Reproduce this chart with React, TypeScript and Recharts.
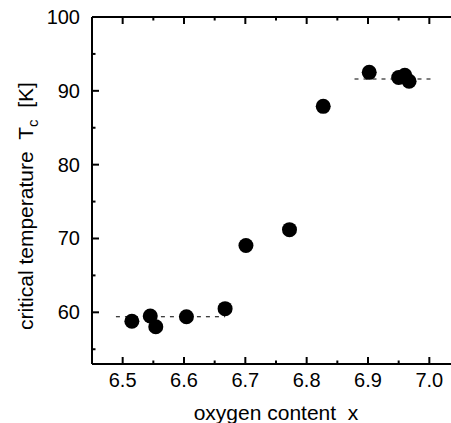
import {
  ScatterChart,
  Scatter,
  XAxis,
  YAxis,
  ReferenceLine,
} from "recharts";

// oxygen content x and critical temperature Tc [K]
const oxygen = [6.515, 6.545, 6.554, 6.604, 6.667, 6.701, 6.772, 6.827, 6.902, 6.95, 6.96, 6.967];
const tc = [58.8, 59.5, 58.05, 59.4, 60.5, 69.05, 71.2, 87.9, 92.5, 91.8, 92.1, 91.3];

// dashed plateau guides
const plateauStart = [6.489, 6.878];
const plateauEnd = [6.667, 7.004];
const plateauTc = [59.4, 91.6];

const xMajor = [6.5, 6.6, 6.7, 6.8, 6.9, 7.0];
const xMinor = [6.55, 6.65, 6.75, 6.85, 6.95];
const yMajor = [60, 70, 80, 90, 100];
const yMinor = [55, 65, 75, 85, 95];

const FONT = "'Liberation Sans', Arial, Helvetica, sans-serif";

// plot frame (px)
const TOP = 17;
const BOTTOM = 364;
const LEFT = 92;

const points = oxygen.map((x, i) => ({ x, y: tc[i] }));

const XTick = (props: any) => {
  const { x, payload } = props;
  const major = xMajor.includes(payload.value);
  const len = major ? 7 : 3.5;
  return (
    <g>
      <line x1={x} x2={x} y1={BOTTOM} y2={BOTTOM - len} stroke="#000" strokeWidth={2} />
      <line x1={x} x2={x} y1={TOP} y2={TOP + len} stroke="#000" strokeWidth={2} />
      {major && (
        <text x={x} y={BOTTOM + 23} textAnchor="middle" fontSize={20} fontFamily={FONT} fill="#000">
          {payload.value.toFixed(1)}
        </text>
      )}
    </g>
  );
};

const YTick = (props: any) => {
  const { y, payload } = props;
  const major = yMajor.includes(payload.value);
  return (
    <g>
      <line x1={LEFT} x2={LEFT + (major ? 7 : 3.5)} y1={y} y2={y} stroke="#000" strokeWidth={2} />
      {major && (
        <text x={LEFT - 12} y={y + 7} textAnchor="end" fontSize={20} fontFamily={FONT} fill="#000">
          {payload.value}
        </text>
      )}
    </g>
  );
};

const XTitle = (props: any) => {
  const { viewBox } = props;
  return (
    <text
      x={viewBox.x + viewBox.width / 2}
      y={420}
      textAnchor="middle"
      fontSize={21}
      fontFamily={FONT}
      fill="#000"
    >
      {"oxygen content\u00a0\u00a0x"}
    </text>
  );
};

const YTitle = () => (
  <text
    transform="translate(33,206) rotate(-90)"
    textAnchor="middle"
    fontSize={21}
    fontFamily={FONT}
    fill="#000"
  >
    {"critical temperature\u00a0\u00a0T"}
    <tspan fontSize={15} dy={5}>c</tspan>
    <tspan dy={-5}>{"\u00a0\u00a0[K]"}</tspan>
  </text>
);

export default function App() {
  return (
    <div
      style={{
        position: "fixed",
        left: 0,
        top: 0,
        width: 451,
        height: 423,
        overflow: "hidden",
        background: "#fff",
      }}
    >
      <ScatterChart width={470} height={423} margin={{ top: TOP, right: 10, left: 32, bottom: 29 }}>
        <XAxis
          type="number"
          dataKey="x"
          domain={[6.45, 7.05]}
          allowDataOverflow
          ticks={[...xMajor, ...xMinor]}
          interval={0}
          tickLine={false}
          tick={(p: any) => <XTick {...p} />}
          axisLine={{ stroke: "#000", strokeWidth: 2 }}
          height={30}
          label={(p: any) => <XTitle {...p} />}
        />
        <YAxis
          type="number"
          dataKey="y"
          domain={[53, 100]}
          allowDataOverflow
          ticks={[...yMajor, ...yMinor]}
          interval={0}
          tickLine={false}
          tick={(p: any) => <YTick {...p} />}
          axisLine={{ stroke: "#000", strokeWidth: 2 }}
          width={60}
          label={() => <YTitle />}
        />
        <ReferenceLine y={100} stroke="#000" strokeWidth={2} ifOverflow="visible" />
        {plateauTc.map((t, i) => (
          <ReferenceLine
            key={i}
            segment={[
              { x: plateauStart[i], y: t },
              { x: plateauEnd[i], y: t },
            ]}
            stroke="#000"
            strokeWidth={1.2}
            strokeDasharray="4 5"
            ifOverflow="visible"
          />
        ))}
        <Scatter
          data={points}
          isAnimationActive={false}
          shape={(p: any) => <circle cx={p.cx} cy={p.cy} r={7.5} fill="#000" />}
        />
      </ScatterChart>
    </div>
  );
}
